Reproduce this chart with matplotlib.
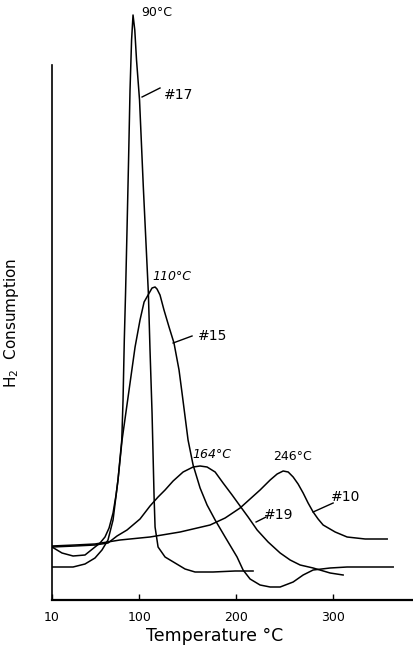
import numpy as np
import matplotlib
matplotlib.use('Agg')
import matplotlib.pyplot as plt

# temperature (deg C) and H2 consumption (arbitrary units)
t17 = [10.0, 20.3, 31.7, 44.0, 54.3, 59.5, 64.6, 68.8, 72.9, 76.0, 78.0, 81.9, 83.2, 84.5,
       85.8, 87.3, 88.9, 90.4, 92.0, 93.5, 95.3, 97.1, 100.2, 104.1, 109.3, 111.0, 113.1,
       115.2, 116.2, 119.3, 126.5, 136.8, 147.1, 157.4, 176.0, 198.7, 217.2]
h17 = [53, 47, 44, 45, 53, 57, 63, 72, 87, 105, 120, 160, 200, 260,
       307, 370, 440, 510, 560, 585, 570, 540, 500, 413, 307, 250, 187,
       103, 73, 53, 43, 37, 31, 28, 28, 29, 29]

t15 = [10.0, 20.3, 31.7, 44.0, 54.3, 61.5, 67.7, 72.9, 78.0, 82.2, 88.4, 95.6, 100.7, 104.9,
       109.0, 113.1, 116.2, 118.2, 121.3, 125.4, 130.6, 135.7, 140.9, 144.0, 150.2, 155.4,
       162.6, 169.8, 178.1, 188.4, 200.7, 206.9, 214.1, 224.4, 234.8, 245.1, 258.5, 268.8,
       279.1, 296.6, 314.1, 337.9, 361.6]
h15 = [33, 33, 33, 36, 42, 50, 60, 80, 120, 160, 203, 253, 280, 298,
       305, 312, 313, 311, 305, 290, 273, 257, 230, 207, 160, 135,
       112, 95, 80, 63, 43, 30, 21, 15, 13, 13, 18, 25,
       30, 32, 33, 33, 33]

t19 = [10.0, 33.7, 54.3, 67.7, 77.0, 87.3, 100.7, 111.0, 119.3, 126.5, 134.8, 145.1, 155.4,
       162.6, 169.8, 178.1, 186.3, 195.6, 203.8, 212.1, 221.4, 232.7, 245.1, 255.4, 265.7,
       279.1, 296.6, 310.0]
h19 = [53, 54, 55, 57, 64, 70, 81, 94, 103, 110, 119, 128, 133,
       134, 133, 128, 117, 105, 94, 83, 70, 58, 47, 40, 35,
       32, 27, 25]

t10 = [10.0, 33.7, 54.3, 80.1, 111.0, 142.0, 172.9, 188.4, 203.8, 214.1, 224.4, 234.8, 242.0,
       248.2, 253.4, 258.5, 263.6, 268.8, 273.9, 279.1, 284.2, 289.4, 301.8, 314.1, 332.7, 355.4]
h10 = [54, 55, 56, 60, 63, 68, 75, 82, 92, 101, 110, 120, 126,
       129, 128, 123, 116, 107, 97, 88, 81, 75, 68, 63, 61, 61]

xticks = [10, 100, 200, 300]
xticklabels = ['10', '100', '200', '300']

fig = plt.figure(figsize=(4.13, 6.46), dpi=100)
ax = fig.add_axes([52 / 413, 46 / 646, 361 / 413, 600 / 646])

for t, h in [(t17, h17), (t15, h15), (t19, h19), (t10, h10)]:
    ax.plot(t, h, color='black', lw=1.1, solid_joinstyle='round')

ax.set_xlim(10, 382)
ax.set_ylim(0, 600)

# peak temperatures
ax.text(118, 588, '90°C', ha='center', va='center', fontsize=9)
ax.text(134, 323, '110°C', ha='center', va='center', fontsize=9, style='italic')
ax.text(175, 145, '164°C', ha='center', va='center', fontsize=9, style='italic')
ax.text(258, 143, '246°C', ha='center', va='center', fontsize=9)

# sample labels with leader lines
labels = [('#17', (140, 505), (102.8, 503), (121.3, 512)),
          ('#15', (175, 264), (134.8, 257), (154.3, 264)),
          ('#19', (244, 85), (220.3, 78), (230.6, 83)),
          ('#10', (313, 103), (279.1, 88), (299.7, 97))]
for txt, pos, p0, p1 in labels:
    ax.text(pos[0], pos[1], txt, ha='center', va='center', fontsize=10)
    ax.plot([p0[0], p1[0]], [p0[1], p1[1]], color='black', lw=1.0)

for s in ['top', 'right']:
    ax.spines[s].set_visible(False)
ax.spines['left'].set_bounds(0, 535)
ax.spines['left'].set_linewidth(1.2)
ax.spines['bottom'].set_linewidth(1.6)

ax.set_yticks([])
ax.set_xticks(xticks)
ax.set_xticklabels(xticklabels, fontsize=9)
ax.tick_params(axis='x', direction='in', length=4, width=1.0, pad=8)

ax.set_xlabel('Temperature °C', fontsize=12.5)
ax.xaxis.set_label_coords(0.45, -0.045)
ax.set_ylabel('H$_2$  Consumption', fontsize=11)
ax.yaxis.set_label_coords(-0.085, 0.462)

fig.savefig('out.png', dpi=100)
